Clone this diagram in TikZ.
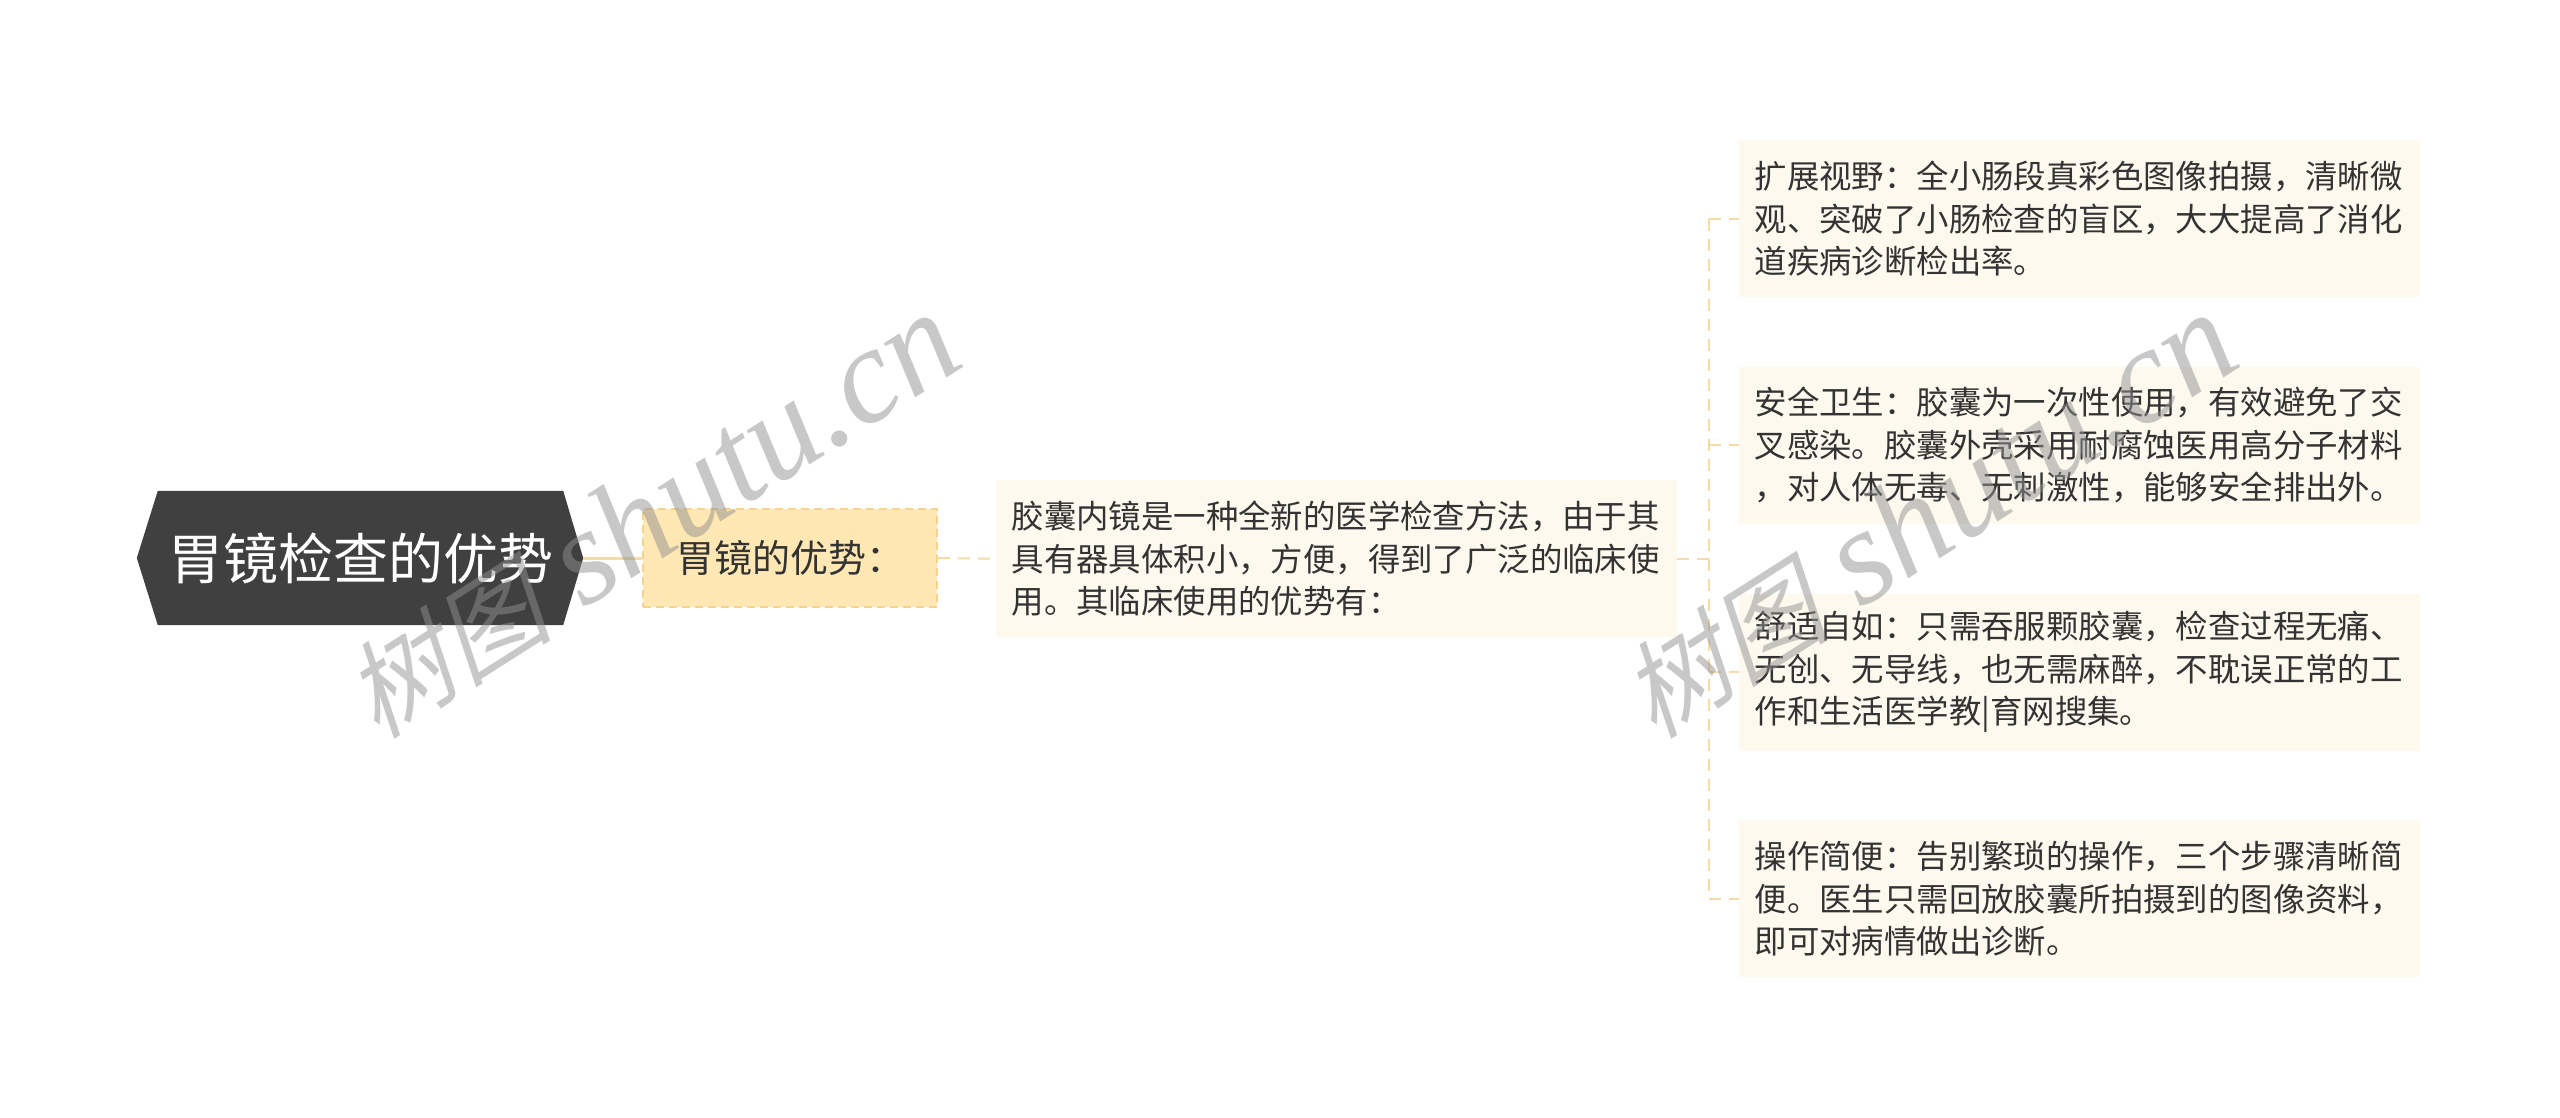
\documentclass[tikz,border=0pt]{standalone}
\usepackage{fontspec}
\setmainfont{Noto Sans CJK SC}
\newfontfamily\wmcjk[FakeSlant=0.25]{Noto Sans CJK SC}
\newfontfamily\wmlatin{Liberation Serif}
\usetikzlibrary{backgrounds,calc}
\definecolor{rootfill}{HTML}{404040}
\definecolor{lvlfill}{HTML}{FFE8B3}
\definecolor{lvlborder}{HTML}{F5D38C}
\definecolor{leaffill}{HTML}{FDF9EE}
\definecolor{linec}{HTML}{F5DBA5}
\definecolor{txt}{HTML}{333333}
\tikzset{
  rootnode/.style={minimum width=405pt, minimum height=134pt, inner sep=0pt, text=white,
    font=\fontsize{55}{60}\selectfont},
  lvlnode/.style={fill=lvlfill, draw=lvlborder, dashed, dash pattern=on 8pt off 5pt, line width=1.5pt,
    minimum width=294pt, minimum height=98pt, inner sep=0pt, text=txt,
    font=\fontsize{38}{44}\selectfont},
  leafbox/.style={fill=leaffill, minimum width=681pt, minimum height=157pt, text width=650pt,
    inner xsep=15.5pt, inner ysep=0pt, align=left, anchor=north west, text=txt,
    font=\fontsize{32.4}{42.5}\selectfont},
  conn/.style={draw=linec, line width=2pt, dash pattern=on 12pt off 8pt},
  wmark/.style={text=black!43, text opacity=0.5, inner sep=0pt, rotate=32.5}
}
\begin{document}
\begin{tikzpicture}[x=1pt,y=-1pt]
\useasboundingbox (0,0) rectangle (2560,1118);
% root
\node[rootnode] (root) at (360.5,558) {胃镜检查的优势};
\begin{scope}[on background layer]
\fill[rootfill] (root.north west) -- (root.north east) -- ($(root.east)+(20,0)$)
  -- (root.south east) -- (root.south west) -- ($(root.west)+(-21,0)$) -- cycle;
\end{scope}
\coordinate (roottip) at ($(root.east)+(20,0)$);
% level 1
\node[lvlnode] (lvl) at (790,558) {胃镜的优势：};
% level 2
\node[leafbox] (intro) at (996,480) {胶囊内镜是一种全新的医学检查方法，由于其\\具有器具体积小，方便，得到了广泛的临床使\\用。其临床使用的优势有：};
% leaves
\node[leafbox] (leafa) at (1739,140) {扩展视野：全小肠段真彩色图像拍摄，清晰微\\观、突破了小肠检查的盲区，大大提高了消化\\道疾病诊断检出率。};
\node[leafbox] (leafb) at (1739,366.7) {安全卫生：胶囊为一次性使用，有效避免了交\\叉感染。胶囊外壳采用耐腐蚀医用高分子材料\\，对人体无毒、无刺激性，能够安全排出外。};
\node[leafbox] (leafc) at (1739,593.3) {舒适自如：只需吞服颗胶囊，检查过程无痛、\\无创、无导线，也无需麻醉，不耽误正常的工\\作和生活医学教|育网搜集。};
\node[leafbox] (leafd) at (1739,820) {操作简便：告别繁琐的操作，三个步骤清晰简\\便。医生只需回放胶囊所拍摄到的图像资料，\\即可对病情做出诊断。};
% connectors
\draw[linec, line width=3pt] (roottip) -- (lvl.west);
\draw[conn] (lvl.east) -- (intro.west);
\coordinate (fork) at ($(intro.east)+(32,0)$);
\draw[conn] (intro.east) -- (fork);
\draw[conn] (leafa.west -| fork) -- (leafd.west -| fork);
\foreach \n in {leafa,leafb,leafc,leafd}
  \draw[conn] (\n.west -| fork) -- (\n.west);
% watermarks
\node[wmark] (wma) at (650,516) {{\wmcjk\fontsize{105}{110}\selectfont 树图}\hspace{34pt}{\wmlatin\itshape\fontsize{136}{140}\selectfont shutu.cn}};
\node[wmark] (wmb) at (1927,516) {{\wmcjk\fontsize{105}{110}\selectfont 树图}\hspace{34pt}{\wmlatin\itshape\fontsize{136}{140}\selectfont shutu.cn}};
\end{tikzpicture}
\end{document}
